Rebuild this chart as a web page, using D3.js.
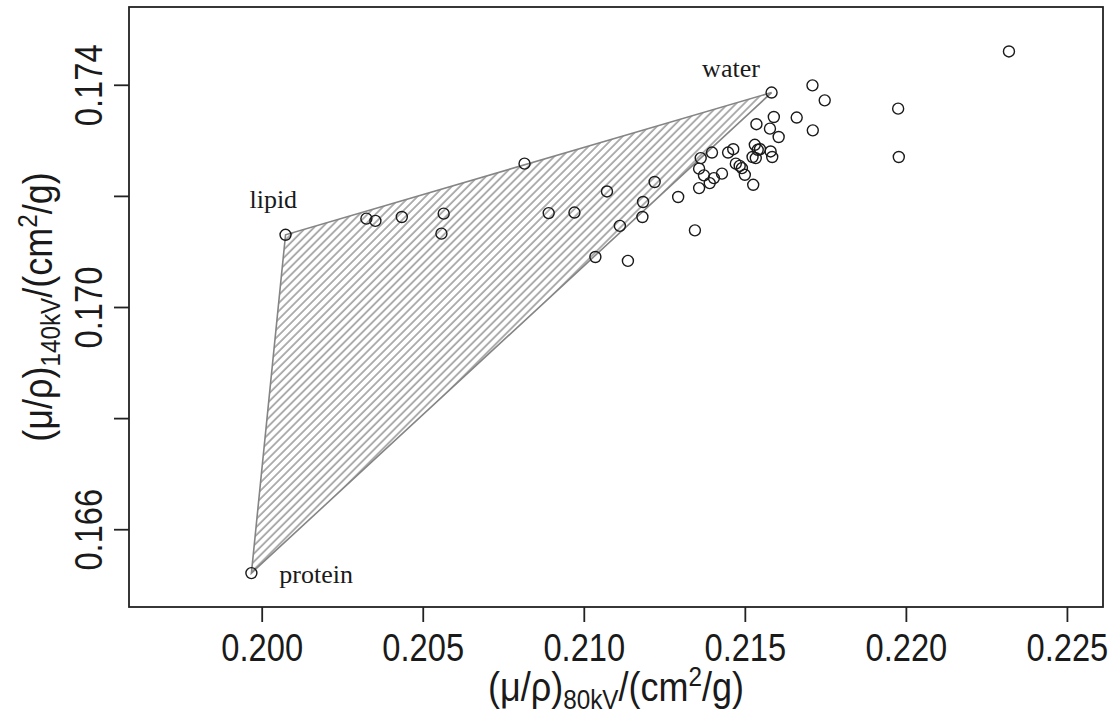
<!DOCTYPE html>
<html>
<head>
<meta charset="utf-8">
<script src="https://cdn.jsdelivr.net/npm/d3@7"></script>
<style>
  html, body { margin: 0; padding: 0; background: #fff; }
  svg { display: block; }
</style>
</head>
<body>
<svg id="chart" width="1117" height="713"></svg>
<script>
// Mass attenuation coefficients at 80 kV (x) and 140 kV (y), in cm^2/g
const sampleX = [
  0.22320, 0.21710, 0.21748, 0.21976, 0.21661, 0.21590, 0.21536, 0.21578,
  0.21711, 0.21605, 0.21531, 0.21547, 0.21580, 0.21585, 0.21464, 0.21448,
  0.21398, 0.21363, 0.21524, 0.21534, 0.21472, 0.21484, 0.21491, 0.21500,
  0.21978, 0.21358, 0.21373, 0.21404, 0.21429, 0.21391, 0.21358, 0.21526,
  0.20816, 0.21220, 0.21072, 0.21293, 0.21184, 0.20891, 0.20971, 0.21182,
  0.21112, 0.21036, 0.21137, 0.21345, 0.20325, 0.20353, 0.20435, 0.20565,
  0.20558, 0.21540
];
const sampleY = [
  0.17460, 0.17399, 0.17372, 0.17357, 0.17341, 0.17342, 0.17329, 0.17321,
  0.17318, 0.17306, 0.17292, 0.17284, 0.17280, 0.17270, 0.17284, 0.17278,
  0.17278, 0.17268, 0.17270, 0.17268, 0.17258, 0.17254, 0.17250, 0.17238,
  0.17270, 0.17249, 0.17237, 0.17232, 0.17240, 0.17223, 0.17214, 0.17220,
  0.17258, 0.17225, 0.17208, 0.17198, 0.17189, 0.17169, 0.17170, 0.17162,
  0.17146, 0.17090, 0.17083, 0.17138, 0.17159, 0.17155, 0.17162, 0.17168,
  0.17132, 0.17283
];

// Pure-component vertices of the mixing triangle
const components = ["water", "lipid", "protein"];
const componentX = [0.21583, 0.20074, 0.19968];
const componentY = [0.17386, 0.17130, 0.16521];
// Label anchors (centre x, baseline y) for each component
const componentLabelX = [0.21457, 0.20036, 0.20169];
const componentLabelY = [0.17414, 0.17178, 0.16503];

// Axis limits and ticks
const xLimits = [0.197, 0.225];
const yLimits = [0.165, 0.175];
const xTicks = [0.200, 0.205, 0.210, 0.215, 0.220, 0.225];
const yTicks = [0.166, 0.168, 0.170, 0.172, 0.174];
const yTickLabels = [0.166, 0.170, 0.174];

const svg = d3.select("#chart");
const plot = { left: 129, right: 1103, top: 7, bottom: 607 };
const sansFont = "Liberation Sans, Arial, Helvetica, sans-serif";
const narrow = 0.86;   // horizontal squeeze for the Helvetica-style axis text

// R-style 4% extension of the axis ranges
const pad = (lim) => { const d = (lim[1] - lim[0]) * 0.04; return [lim[0] - d, lim[1] + d]; };

const x = d3.scaleLinear().domain(pad(xLimits)).range([plot.left, plot.right]);
const y = d3.scaleLinear().domain(pad(yLimits)).range([plot.bottom, plot.top]);

// Diagonal hatch pattern for the triangle
const defs = svg.append("defs");
const pat = defs.append("pattern")
  .attr("id", "hatch")
  .attr("patternUnits", "userSpaceOnUse")
  .attr("width", 5.7).attr("height", 10)
  .attr("patternTransform", "rotate(45)");
pat.append("line")
  .attr("x1", 1).attr("y1", -1).attr("x2", 1).attr("y2", 11)
  .attr("stroke", "#858585").attr("stroke-width", 1.3);

const tri = components.map((c, i) => [x(componentX[i]), y(componentY[i])]);
svg.append("path")
  .attr("d", d3.line()(tri) + "Z")
  .attr("fill", "url(#hatch)")
  .attr("stroke", "#858585")
  .attr("stroke-width", 1.6);

// Sample points and the three vertices as open circles
const allX = sampleX.concat(componentX);
const allY = sampleY.concat(componentY);
svg.append("g")
  .selectAll("circle")
  .data(d3.range(allX.length))
  .join("circle")
  .attr("cx", i => x(allX[i]))
  .attr("cy", i => y(allY[i]))
  .attr("r", 5.5)
  .attr("fill", "none")
  .attr("stroke", "#1a1a1a")
  .attr("stroke-width", 1.4);

// Component labels
svg.append("g")
  .selectAll("text")
  .data(components)
  .join("text")
  .attr("x", (d, i) => x(componentLabelX[i]))
  .attr("y", (d, i) => y(componentLabelY[i]))
  .attr("text-anchor", "middle")
  .attr("font-family", "Liberation Serif, Times New Roman, serif")
  .attr("font-size", 26)
  .attr("fill", "#1a1a1a")
  .text(d => d);

// Plot frame
svg.append("rect")
  .attr("x", plot.left).attr("y", plot.top)
  .attr("width", plot.right - plot.left).attr("height", plot.bottom - plot.top)
  .attr("fill", "none").attr("stroke", "#222").attr("stroke-width", 1.8);

// Bottom axis
const xAxis = d3.axisBottom(x).tickValues(xTicks).tickSize(15).tickPadding(12)
  .tickFormat(d3.format(".3f"));
const gx = svg.append("g").attr("transform", `translate(0,${plot.bottom})`).call(xAxis);
gx.select(".domain").remove();
gx.selectAll(".tick line").attr("stroke", "#222").attr("stroke-width", 1.8);
gx.selectAll(".tick text")
  .attr("y", null).attr("dy", null)
  .attr("transform", `translate(0,54) scale(${narrow},1)`)
  .attr("font-family", sansFont)
  .attr("font-size", 38).attr("fill", "#1a1a1a");

// Left axis (labels rotated, R style)
const yAxis = d3.axisLeft(y).tickValues(yTicks).tickSize(15)
  .tickFormat(d => yTickLabels.some(v => Math.abs(v - d) < 1e-9) ? d3.format(".3f")(d) : "");
const gy = svg.append("g").attr("transform", `translate(${plot.left},0)`).call(yAxis);
gy.select(".domain").remove();
gy.selectAll(".tick line").attr("stroke", "#222").attr("stroke-width", 1.8);
gy.selectAll(".tick text")
  .attr("x", null).attr("dy", null)
  .attr("transform", `translate(-27,0) rotate(-90) scale(${narrow},1)`)
  .attr("text-anchor", "middle")
  .attr("font-family", sansFont)
  .attr("font-size", 38).attr("fill", "#1a1a1a");

// Axis titles with sub/superscripts
function title(g, sub) {
  const t = g.append("text")
    .attr("text-anchor", "middle")
    .attr("transform", "scale(0.9,1)")
    .attr("font-family", sansFont)
    .attr("font-size", 40).attr("fill", "#1a1a1a");
  t.append("tspan").text("(\u03BC/\u03C1)");
  t.append("tspan").attr("font-size", 27).attr("dy", 8).text(sub);
  t.append("tspan").attr("dy", -8).text("/(cm");
  t.append("tspan").attr("font-size", 27).attr("dy", -15).text("2");
  t.append("tspan").attr("dy", 15).text("/g)");
  return t;
}
title(svg.append("g").attr("transform", `translate(${(plot.left + plot.right) / 2},701)`), "80kV");
title(svg.append("g").attr("transform", `translate(52,${(plot.top + plot.bottom) / 2}) rotate(-90)`), "140kV");
</script>
</body>
</html>
